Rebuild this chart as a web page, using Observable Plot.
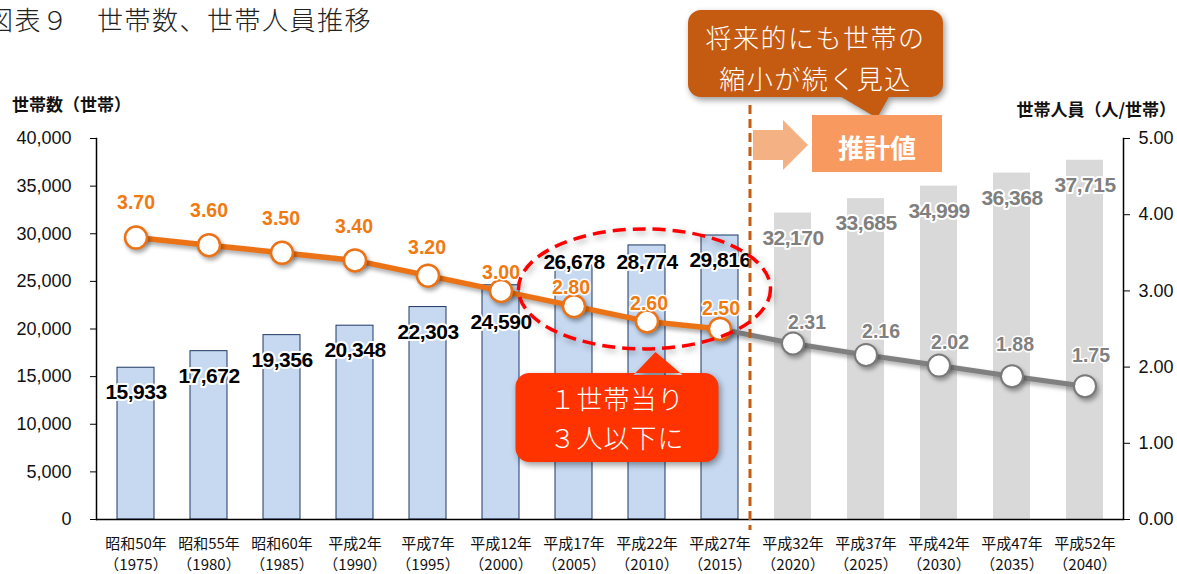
<!DOCTYPE html>
<html><head><meta charset="utf-8">
<script src="https://cdn.jsdelivr.net/npm/d3@7"></script>
<script src="https://cdn.jsdelivr.net/npm/@observablehq/plot@0.6"></script>
<style>
html,body{margin:0;padding:0;background:#fff;}
#chart{position:relative;width:1177px;height:574px;overflow:hidden;}
</style></head><body><div id="chart"></div>
<script>
// ---- data ----
const years = ["1975","1980","1985","1990","1995","2000","2005","2010","2015","2020","2025","2030","2035","2040"];
const eraLabels = ["昭和50年","昭和55年","昭和60年","平成2年","平成7年","平成12年","平成17年","平成22年","平成27年","平成32年","平成37年","平成42年","平成47年","平成52年"];
const households = [15933,17672,19356,20348,22303,24590,26678,28774,29816,32170,33685,34999,36368,37715];
const persons = [3.70,3.60,3.50,3.40,3.20,3.00,2.80,2.60,2.50,2.31,2.16,2.02,1.88,1.75];
const firstEstimateYear = "2020";
const leftTicks = [0,5000,10000,15000,20000,25000,30000,35000,40000];
const rightTicks = [0,1,2,3,4,5];
const titleText = "図表９　世帯数、世帯人員推移";
const leftAxisTitle = "世帯数（世帯）";
const rightAxisTitle = "世帯人員（人/世帯）";
const noteFuture = ["将来的にも世帯の","縮小が続く見込"];
const noteEstimate = "推計値";
const noteThree = ["１世帯当り","３人以下に"];

// ---- build ----
const RATE = 40000 / 5; // right axis 0–5 mapped onto left 0–40,000
const estIndex = years.indexOf(firstEstimateYear);
const eraOf = Object.fromEntries(years.map((y, i) => [y, eraLabels[i]]));
const rows = years.map((year, i) => ({year, households: households[i], persons: persons[i], rate: persons[i] * RATE, est: i >= estIndex}));
const actual = rows.filter(d => !d.est);
const future = rows.filter((d, i) => i >= estIndex - 1);
const estimates = rows.filter(d => d.est);

// label placement (styling, not data)
const barDyOverride = {"2000": 37, "2005": -3, "2010": 17};
const lineDy = [-35,-34,-34,-34,-28,-18,-18,-18,-20,-21,-23,-23,-31,-30];
const lineDx = [0,0,-1,-1,-1,0,-3,2,1,14,15,11,3,6];

const numFont = '"Liberation Sans", Arial, "Noto Sans CJK JP", sans-serif';
const cjkFont = '"Noto Sans CJK JP", "Liberation Sans", sans-serif';
const ORANGE = "#EC7216", GRAY = "#808080";

const fmt = d3.format(",");
const barLabelMarks = [];
const groups = d3.group(rows, d => barDyOverride[d.year] ?? 25);
for (const [dy, g] of groups) {
  barLabelMarks.push(Plot.text(g, {x: "year", y: "households", text: d => fmt(d.households), dy,
    fill: d => d.est ? "#7F7F7F" : "#000", fontSize: 21, fontWeight: "bold", stroke: "white", strokeWidth: 4,
    ariaDescription: "barlabel"}));
}
const lineLabelMarks = rows.map((d, i) => Plot.text([d], {x: "year", y: "rate", text: d => d.persons.toFixed(2),
  dx: lineDx[i], dy: lineDy[i], fill: d.est ? "#808080" : "#F07A10", fontSize: 19.5, fontWeight: "bold",
  stroke: "white", strokeWidth: 3, ariaDescription: "linelabel"}));

const chart = Plot.plot({
  width: 1177, height: 574,
  marginLeft: 96, marginRight: 54, marginTop: 138, marginBottom: 55,
  x: {type: "band", domain: years, padding: 0, axis: null, label: null},
  y: {domain: [0, 40000], axis: null, label: null},
  style: {fontFamily: numFont, background: "transparent", color: "#111"},
  marks: [
    Plot.barY(actual, {x: "year", y: "households", fill: "#C6D9F1", stroke: "#1F3864", strokeWidth: 1, insetLeft: 18, insetRight: 18}),
    Plot.barY(estimates, {x: "year", y: "households", fill: "#D9D9D9", insetLeft: 18, insetRight: 18}),
    Plot.frame({anchor: "left", stroke: "#000", strokeWidth: 1.5}),
    Plot.frame({anchor: "right", stroke: "#000", strokeWidth: 1.5}),
    Plot.ruleY([0], {stroke: "#000", strokeWidth: 1.5}),
    Plot.axisY({anchor: "left", ticks: leftTicks, tickFormat: fmt, tickSize: 6, tickPadding: 19, fontSize: 18, stroke: "#000", label: null}),
    Plot.axisY({anchor: "right", ticks: rightTicks.map(v => v * RATE), tickFormat: d => (d / RATE).toFixed(2), tickSize: 6, tickPadding: 9, fontSize: 18, stroke: "#000", label: null}),
    Plot.axisX({anchor: "bottom", tickSize: 0, tickPadding: 15, fontSize: 15, lineHeight: 1.4, fontFamily: cjkFont, label: null,
      tickFormat: d => `${eraOf[d]}\n（${d}）`}),
    Plot.line(future, {x: "year", y: "rate", stroke: GRAY, strokeWidth: 5, ariaDescription: "shadowed"}),
    Plot.line(actual, {x: "year", y: "rate", stroke: ORANGE, strokeWidth: 5.5, ariaDescription: "shadowed"}),
    Plot.dot(estimates, {x: "year", y: "rate", r: 11, fill: "white", stroke: "#7A7A7A", strokeWidth: 2, ariaDescription: "shadowed"}),
    Plot.dot(actual, {x: "year", y: "rate", r: 11, fill: "white", stroke: ORANGE, strokeWidth: 2.5, ariaDescription: "shadowed"}),
    ...barLabelMarks,
    ...lineLabelMarks
  ]
});
document.getElementById("chart").appendChild(chart);

const svg = d3.select(chart);
svg.selectAll('g[aria-description="barlabel"] text').style("letter-spacing", "-0.5px");
svg.selectAll('g[aria-description="shadowed"]').style("filter", "drop-shadow(2px 3px 2px rgba(0,0,0,0.35))");

const xs = chart.scale("x"), ys = chart.scale("y");
const xc = y => xs.apply(y) + xs.bandwidth / 2;
const yv = v => ys.apply(v);

const ov = svg.append("g");
const shadow = "drop-shadow(2px 3px 3px rgba(0,0,0,0.4))";

// title
ov.append("text").attr("x", -13).attr("y", 18).attr("text-anchor", "start").attr("dominant-baseline", "central")
  .style("font-family", cjkFont).style("font-size", "26px").style("font-weight", 300)
  .style("letter-spacing", "1.5px").attr("fill", "#222").text(titleText);
// axis titles
ov.append("text").attr("x", 12).attr("y", 103).attr("text-anchor", "start").attr("dominant-baseline", "central")
  .style("font-family", cjkFont).style("font-size", "17px").style("font-weight", "bold").attr("fill", "#111").text(leftAxisTitle);
ov.append("text").attr("x", 1176).attr("y", 108).attr("text-anchor", "end").attr("dominant-baseline", "central")
  .style("font-family", cjkFont).style("font-size", "17px").style("font-weight", "bold").attr("fill", "#111").text(rightAxisTitle);

// dashed separator between actual and estimate
const sepX = (xc(years[estIndex - 1]) + xc(years[estIndex])) / 2 - 6;
ov.append("line").attr("x1", sepX).attr("x2", sepX).attr("y1", 105).attr("y2", 530)
  .attr("stroke", "#C55A11").attr("stroke-width", 3).attr("stroke-dasharray", "9,5");

// rounded-box callout helper
function callout(x0, y0, x1, y1, r, tri, fill) {
  const p = d3.path();
  p.moveTo(x0 + r, y0); p.lineTo(x1 - r, y0); p.arcTo(x1, y0, x1, y0 + r, r);
  p.lineTo(x1, y1 - r); p.arcTo(x1, y1, x1 - r, y1, r); p.lineTo(x0 + r, y1);
  p.arcTo(x0, y1, x0, y1 - r, r); p.lineTo(x0, y0 + r); p.arcTo(x0, y0, x0 + r, y0, r); p.closePath();
  p.moveTo(tri[0][0], tri[0][1]); p.lineTo(tri[1][0], tri[1][1]); p.lineTo(tri[2][0], tri[2][1]); p.closePath();
  return ov.append("path").attr("d", p.toString()).attr("fill", fill).style("filter", shadow);
}

// top future note
const fx0 = sepX - 62, fx1 = sepX + 193;
callout(fx0, 10, fx1, 97, 13, [[sepX + 88, 95], [sepX + 140, 95], [sepX + 127, 118]], "#C55A11");
noteFuture.forEach((t, i) => ov.append("text").attr("x", (fx0 + fx1) / 2).attr("y", 36 + i * 41)
  .attr("text-anchor", "middle").attr("dominant-baseline", "central").attr("fill", "white")
  .style("font-family", cjkFont).style("font-size", "26px").style("font-weight", 300).style("letter-spacing", "1.5px").text(t));

// arrow + estimate box
const ax = sepX + 3;
ov.append("polygon").attr("points", [[ax, 130], [ax + 30, 130], [ax + 30, 120], [ax + 55, 145], [ax + 30, 170], [ax + 30, 160], [ax, 160]].join(" "))
  .attr("fill", "#F4B183");
ov.append("rect").attr("x", sepX + 62).attr("y", 115).attr("width", 130).attr("height", 57).attr("fill", "#F8995F");
ov.append("text").attr("x", sepX + 127).attr("y", 146).attr("text-anchor", "middle").attr("dominant-baseline", "central")
  .attr("fill", "white").style("font-family", cjkFont).style("font-size", "26px").style("font-weight", "bold").text(noteEstimate);

// red dashed ellipse around 2005–2015
const ecx = xc("2010") - 2, ecy = yv(persons[7] * RATE) - 32;
ov.append("ellipse").attr("cx", ecx).attr("cy", ecy).attr("rx", 126).attr("ry", 60)
  .attr("fill", "none").attr("stroke", "#FF0000").attr("stroke-width", 3.5).attr("stroke-dasharray", "13,7")
  .style("filter", "drop-shadow(2px 3px 3px rgba(0,0,0,0.3))");

// red callout
const rx0 = ecx - 129, rx1 = ecx + 74;
callout(rx0, 373, rx1, 462, 14, [[ecx - 11, 375], [ecx + 38, 375], [ecx + 11, 352]], "#FF3300");
noteThree.forEach((t, i) => ov.append("text").attr("x", (rx0 + rx1) / 2).attr("y", 397 + i * 39)
  .attr("text-anchor", "middle").attr("dominant-baseline", "central").attr("fill", "white")
  .style("font-family", cjkFont).style("font-size", "26px").style("font-weight", 300).style("letter-spacing", "1px").text(t));
</script>
</body></html>
